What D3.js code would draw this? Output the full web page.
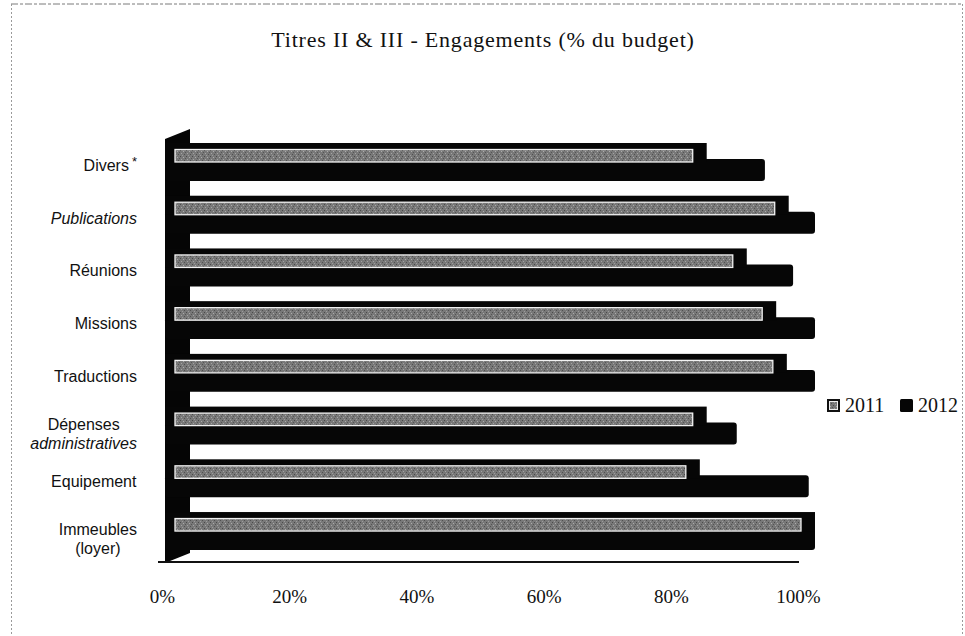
<!DOCTYPE html>
<html>
<head>
<meta charset="utf-8">
<script src="https://cdn.jsdelivr.net/npm/d3@7"></script>
<style>
  html, body { margin: 0; padding: 0; background: #fff; }
  svg { display: block; }
</style>
</head>
<body>
<svg id="chart" width="965" height="636"></svg>
<script>
// ---- data ----
const title = "Titres II & III - Engagements (% du budget)";
const categories = ["Divers*", "Publications", "Réunions", "Missions", "Traductions", "Dépenses administratives", "Equipement", "Immeubles (loyer)"];
const categoryLines = [["Divers*"], ["Publications"], ["Réunions"], ["Missions"], ["Traductions"], ["Dépenses", "administratives"], ["Equipement"], ["Immeubles", "(loyer)"]];
const series = ["2011", "2012"];
const values2011 = [0.827, 0.958, 0.891, 0.938, 0.955, 0.827, 0.816, 1.00];
const values2012 = [0.92, 1.00, 0.965, 1.00, 1.00, 0.875, 0.99, 1.00];
const tickValues = [0, 0.2, 0.4, 0.6, 0.8, 1.0];

// ---- styling (not data) ----
const italicLines = new Set(["Publications", "administratives"]);
const serif = "'Liberation Serif', 'DejaVu Serif', serif";
const sans = "'Liberation Sans', Arial, sans-serif";

const svg = d3.select("#chart");

// pattern for the textured grey bars
const defs = svg.append("defs");
const pat = defs.append("pattern").attr("id", "grain").attr("patternUnits", "userSpaceOnUse")
  .attr("width", 6).attr("height", 6);
pat.append("rect").attr("width", 6).attr("height", 6).attr("fill", "#787878");
[[0,0,"#4a4a4a"],[3,1,"#ababab"],[1,3,"#a3a3a3"],[4,4,"#505050"],[2,5,"#9c9c9c"],[5,2,"#555"]].forEach(([px,py,c]) =>
  pat.append("rect").attr("x", px).attr("y", py).attr("width", 1).attr("height", 1).attr("fill", c));

// frame (dotted border of the scanned chart area)
svg.append("line").attr("x1", 11).attr("x2", 963).attr("y1", 4).attr("y2", 4)
  .attr("stroke", "#7a7a7a").attr("stroke-width", 1).attr("stroke-dasharray", "7,2,3,2");
svg.append("line").attr("x1", 11.5).attr("x2", 11.5).attr("y1", 4).attr("y2", 636)
  .attr("stroke", "#9a9a9a").attr("stroke-width", 1).attr("stroke-dasharray", "2,2");
svg.append("line").attr("x1", 962.5).attr("x2", 962.5).attr("y1", 4).attr("y2", 636)
  .attr("stroke", "#9a9a9a").attr("stroke-width", 1).attr("stroke-dasharray", "2,2");

// title
svg.append("text").attr("x", 483).attr("y", 47).attr("text-anchor", "middle")
  .attr("font-family", serif).attr("font-size", 22).attr("letter-spacing", 0.8)
  .attr("fill", "#111").text(title);

// scales
const x = d3.scaleLinear().domain([0, 1]).range([175, 801]);          // bar front faces
const xLabels = d3.scaleLinear().domain([0, 1]).range([162, 798]);    // front-edge axis labels
const y = d3.scaleBand().domain(categories).range([143, 550]).paddingInner(0.28);
const depthX = 14, depthY = 6;
const wallLeft = 165, wallRight = 190;

// back wall (3D)
svg.append("polygon")
  .attr("points", [[wallLeft, 139], [wallRight, 129], [wallRight, 553], [wallLeft, 563]].map(p => p.join(",")).join(" "))
  .attr("fill", "#050505");
// floor front edge
svg.append("line").attr("x1", 158).attr("x2", x(1) - 2).attr("y1", 562).attr("y2", 562)
  .attr("stroke", "#111").attr("stroke-width", 2);

const rows = categories.map((c, i) => ({ c, i, v11: values2011[i], v12: values2012[i] }));
const g = svg.append("g");

// 2012 bars (black)
g.selectAll("rect.b2012").data(rows).join("rect").attr("class", "b2012")
  .attr("x", wallLeft)
  .attr("y", d => y(d.c) + depthY + 10)
  .attr("width", d => x(d.v12) + depthX - wallLeft)
  .attr("height", d => y.bandwidth() - depthY - 10)
  .attr("rx", 3).attr("fill", "#060606");

// 2011 bar depth (black top/side faces)
g.selectAll("rect.d2011").data(rows).join("rect").attr("class", "d2011")
  .attr("x", wallLeft)
  .attr("y", d => y(d.c))
  .attr("width", d => x(d.v11) + depthX - wallLeft)
  .attr("height", depthY + 13)
  .attr("fill", "#060606");

// 2011 bar front faces (grey textured with white outline)
g.selectAll("rect.f2011").data(rows).join("rect").attr("class", "f2011")
  .attr("x", x(0))
  .attr("y", d => y(d.c) + depthY + 0.5)
  .attr("width", d => x(d.v11) - x(0))
  .attr("height", 12.5)
  .attr("fill", "url(#grain)")
  .attr("stroke", "#f2f2f2").attr("stroke-width", 1.3);

// category labels
const labelRight = 137;
rows.forEach(d => {
  const lines = categoryLines[d.i];
  const cy = y(d.c) + y.bandwidth() / 2;
  const t = svg.append("text").attr("font-family", sans).attr("font-size", 16).attr("fill", "#111");
  const tsp = lines.map((ln, k) => {
    const isStar = ln.endsWith("*");
    const s = t.append("tspan").attr("y", cy + (lines.length === 1 ? 9 : 4) + k * 19)
      .attr("font-style", italicLines.has(ln) ? "italic" : "normal")
      .text(isStar ? ln.slice(0, -1) : ln);
    if (isStar) {
      t.append("tspan").attr("dx", 3).attr("dy", -5).attr("font-size", 13).text("*");
    }
    return s;
  });
  if (lines.length === 1) {
    t.attr("text-anchor", "end");
    tsp[0].attr("x", labelRight);
    const bb = t.node().getBBox();
    t.attr("transform", `translate(${labelRight - (bb.x + bb.width)},0)`);
  } else {
    const maxW = d3.max(tsp, s => s.node().getComputedTextLength());
    t.attr("text-anchor", "middle");
    tsp.forEach(s => s.attr("x", labelRight - maxW / 2));
  }
});

// x axis labels (front edge)
const axis = d3.axisBottom(xLabels).tickValues(tickValues).tickFormat(d3.format(".0%")).tickSize(0).tickPadding(0);
const ax = svg.append("g").attr("transform", "translate(0,589)").call(axis);
ax.select(".domain").remove();
ax.selectAll("text").attr("font-family", serif).attr("font-size", 19).attr("fill", "#111").attr("dy", "0.71em");

// legend
const legend = svg.append("g");
const legX = [827, 900];
series.forEach((s, i) => {
  const lg = legend.append("g").attr("transform", `translate(${legX[i]},399)`);
  if (i === 0) {
    lg.append("rect").attr("width", 13).attr("height", 13).attr("fill", "#111");
    lg.append("rect").attr("x", 2.5).attr("y", 2.5).attr("width", 8).attr("height", 8)
      .attr("fill", "url(#grain)").attr("stroke", "#eee").attr("stroke-width", 1);
  } else {
    lg.append("rect").attr("width", 13).attr("height", 13).attr("rx", 1.5).attr("fill", "#060606");
  }
  lg.append("text").attr("x", 18).attr("y", 13).attr("font-family", serif).attr("font-size", 20)
    .attr("fill", "#111").text(s);
});
</script>
</body>
</html>
